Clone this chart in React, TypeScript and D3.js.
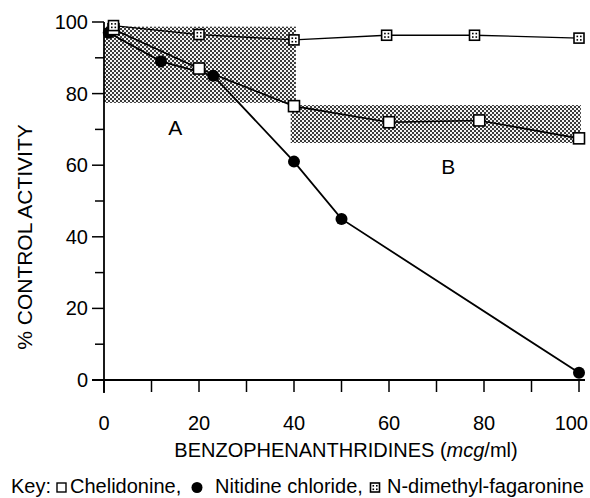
import React from "react";
import * as d3 from "d3";

const xTicksMajor = [0, 20, 40, 60, 80, 100];
const xTicksAll = [0, 10, 20, 30, 40, 50, 60, 70, 80, 90, 100];
const yTicksMajor = [0, 20, 40, 60, 80, 100];
const yTicksMinor = [10, 30, 50, 70, 90];

const nitidineX = [1, 12, 23, 40, 50, 100];
const nitidineY = [97, 89, 85, 61, 45, 2];
const chelidonineX = [2, 20, 40, 60, 79, 100];
const chelidonineY = [98, 87, 76.5, 72, 72.5, 67.5];
const fagaronineX = [2, 20, 40, 59.5, 78, 100];
const fagaronineY = [99, 96.5, 95, 96.3, 96.3, 95.5];

// shaded regions [x0, x1, y0, y1]
const regionA = [0, 40.4, 77.4, 98.7];
const regionB = [39.3, 100.4, 66.2, 76.8];
const regionLabels = ["A", "B"];
const regionLabelPos = [[15, 70.5], [72.5, 59.5]];

const FONT = "'Liberation Sans', Arial, Helvetica, sans-serif";
const FS = 20;

export default function App() {
  const x = d3.scaleLinear().domain([0, 100]).range([104, 579]);
  const y = d3.scaleLinear().domain([0, 100]).range([380, 22]);
  const line = d3.line<[number, number]>().x(d => x(d[0])).y(d => y(d[1]));
  const nit = nitidineX.map((v, i) => [v, nitidineY[i]] as [number, number]);
  const che = chelidonineX.map((v, i) => [v, chelidonineY[i]] as [number, number]);
  const fag = fagaronineX.map((v, i) => [v, fagaronineY[i]] as [number, number]);

  const region = (r: number[], key: string) => (
    <rect key={key} x={x(r[0])} y={y(r[3])} width={x(r[1]) - x(r[0])} height={y(r[2]) - y(r[3])} fill="url(#dots)" />
  );

  const dotSquare = (cx: number, cy: number, key: string, s = 10) => (
    <g key={key}>
      <rect x={cx - s / 2} y={cy - s / 2} width={s} height={s} fill="white" stroke="black" strokeWidth={1.6} />
      <rect x={cx - 2.5} y={cy - 2.5} width={1.6} height={1.6} fill="black" />
      <rect x={cx + 1} y={cy - 2.5} width={1.6} height={1.6} fill="black" />
      <rect x={cx - 2.5} y={cy + 1} width={1.6} height={1.6} fill="black" />
      <rect x={cx + 1} y={cy + 1} width={1.6} height={1.6} fill="black" />
    </g>
  );

  return (
    <svg width={590} height={498} style={{ position: "absolute", left: 0, top: 0, background: "white" }} fontFamily={FONT}>
      <defs>
        <pattern id="dots" width={4} height={4} patternUnits="userSpaceOnUse">
          <rect width={4} height={4} fill="#f4f4f4" />
          <rect x={0} y={0} width={2} height={2} fill="#3a3a3a" />
          <rect x={2} y={2} width={2} height={2} fill="#3a3a3a" />
        </pattern>
      </defs>
      <rect width={590} height={498} fill="white" />
      {region(regionA, "A")}
      {region(regionB, "B")}
      {regionLabels.map((t, i) => (
        <text key={t} x={x(regionLabelPos[i][0])} y={y(regionLabelPos[i][1])} fontSize={21} textAnchor="middle" dominantBaseline="central">{t}</text>
      ))}

      {/* axes */}
      <line x1={x(0)} x2={x(0)} y1={y(100)} y2={393} stroke="black" strokeWidth={1.8} />
      <line x1={x(0) - 12} x2={x(100) + 6} y1={y(0)} y2={y(0)} stroke="black" strokeWidth={1.8} />
      {yTicksMajor.map(t => (
        <g key={"ym" + t}>
          <line x1={x(0) - 12} x2={x(0)} y1={y(t)} y2={y(t)} stroke="black" strokeWidth={1.5} />
          <text x={88} y={y(t)} fontSize={FS} textAnchor="end" dominantBaseline="central">{t}</text>
        </g>
      ))}
      {yTicksMinor.map(t => (
        <line key={"yn" + t} x1={x(0) - 9} x2={x(0)} y1={y(t)} y2={y(t)} stroke="black" strokeWidth={1.5} />
      ))}
      {xTicksAll.map(t => (
        <line key={"xt" + t} x1={x(t)} x2={x(t)} y1={y(0)} y2={y(0) + 12} stroke="black" strokeWidth={1.5} />
      ))}
      {xTicksMajor.map(t => (
        t === 100 ? (
          <text key={"xl" + t} x={588} y={430} fontSize={FS} textAnchor="end">{t}</text>
        ) : (
          <text key={"xl" + t} x={x(t)} y={430} fontSize={FS} textAnchor="middle">{t}</text>
        )
      ))}
      <text x={346} y={457} fontSize={FS} textAnchor="middle">
        BENZOPHENANTHRIDINES (<tspan fontStyle="italic">mcg</tspan>/ml)
      </text>
      <text transform="translate(32,237) rotate(-90)" fontSize={21} textAnchor="middle">% CONTROL ACTIVITY</text>

      {/* lines */}
      <path d={line(fag) || ""} fill="none" stroke="black" strokeWidth={1.3} />
      <path d={line(che) || ""} fill="none" stroke="black" strokeWidth={1.6} />
      <path d={line(nit) || ""} fill="none" stroke="black" strokeWidth={1.8} />

      {nit.map((d, i) => (
        <circle key={"n" + i} cx={x(d[0])} cy={y(d[1])} r={6} fill="black" />
      ))}
      {che.map((d, i) => (
        <rect key={"c" + i} x={x(d[0]) - 5.5} y={y(d[1]) - 5.5} width={11} height={11} fill="white" stroke="black" strokeWidth={1.6} />
      ))}
      {fag.map((d, i) => dotSquare(x(d[0]), y(d[1]), "f" + i))}

      {/* legend */}
      <text x={11} y={493} fontSize={FS}>Key:</text>
      <rect x={57} y={483} width={9} height={9} fill="white" stroke="black" strokeWidth={1.4} />
      <text x={70} y={493} fontSize={FS}>Chelidonine,</text>
      <circle cx={197} cy={487.5} r={5.5} fill="black" />
      <text x={215} y={493} fontSize={FS}>Nitidine chloride,</text>
      {dotSquare(375, 487.5, "legf", 9)}
      <text x={387} y={493} fontSize={FS}>N-dimethyl-fagaronine</text>
    </svg>
  );
}
